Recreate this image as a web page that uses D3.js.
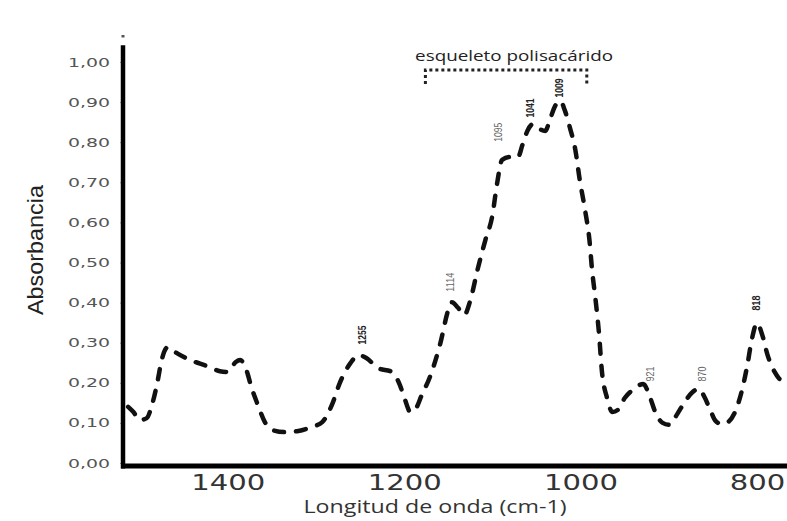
<!DOCTYPE html>
<html>
<head>
<meta charset="utf-8">
<script src="https://cdn.jsdelivr.net/npm/d3@7"></script>
<style>
  body { margin: 0; background: #fff; }
</style>
</head>
<body>
<svg id="chart" width="787" height="521"></svg>
<script>
// spectrum (cm-1, absorbance)
const wavenumber = [1513, 1507, 1500, 1492, 1486, 1480, 1475, 1468, 1460, 1443, 1424, 1409, 1400, 1391, 1386,
  1379, 1373, 1366, 1358, 1349, 1335, 1320, 1305, 1293, 1282, 1273, 1261, 1252, 1243, 1230, 1214, 1205, 1199,
  1193, 1188, 1180, 1171, 1159, 1150, 1146, 1139, 1132, 1125, 1117, 1108, 1100, 1095, 1089, 1080, 1071, 1066,
  1060, 1054, 1048, 1040, 1035, 1029, 1023, 1018, 1012, 1006, 1001, 995, 990, 987, 983, 979, 976, 970, 964,
  958, 950, 941, 929, 921, 915, 907, 899, 891, 882, 873, 866, 859, 853, 847, 840, 833, 824, 817, 811, 806,
  800, 794, 788, 780, 772, 766];
const absorbance = [0.140, 0.127, 0.107, 0.112, 0.145, 0.200, 0.257, 0.289, 0.277, 0.257, 0.242, 0.229, 0.227,
  0.252, 0.257, 0.232, 0.187, 0.145, 0.102, 0.082, 0.077, 0.080, 0.090, 0.102, 0.145, 0.200, 0.249, 0.269,
  0.262, 0.237, 0.227, 0.195, 0.157, 0.127, 0.132, 0.170, 0.214, 0.299, 0.382, 0.401, 0.387, 0.369, 0.406,
  0.481, 0.556, 0.618, 0.693, 0.756, 0.763, 0.763, 0.793, 0.830, 0.845, 0.835, 0.828, 0.855, 0.890, 0.903,
  0.880, 0.835, 0.781, 0.706, 0.631, 0.556, 0.481, 0.406, 0.319, 0.232, 0.162, 0.127, 0.132, 0.162, 0.182,
  0.197, 0.162, 0.125, 0.100, 0.095, 0.120, 0.152, 0.177, 0.185, 0.162, 0.132, 0.105, 0.097, 0.102, 0.132,
  0.182, 0.244, 0.307, 0.349, 0.319, 0.269, 0.227, 0.207, 0.212];

const yTicks = [0, 0.1, 0.2, 0.3, 0.4, 0.5, 0.6, 0.7, 0.8, 0.9, 1.0];
const xTicks = [1400, 1200, 1000, 800];

// peak annotations (rotated numbers)
const peakLabels = ["1255", "1114", "1095", "1041", "1009", "921", "870", "818"];
const peakX = [1247, 1148, 1093, 1057, 1024, 921, 862, 801];
const peakY = [0.319, 0.451, 0.825, 0.885, 0.935, 0.222, 0.222, 0.399];
const peakBold = [true, false, false, true, true, false, false, true];

// dotted bracket over the polysaccharide region
const bracketRange = [1176, 993];
const bracketLevels = [0.980, 0.945];
const bracketText = "esqueleto polisacárido";

const svg = d3.select("#chart");

const x = d3.scaleLinear().domain([1520, 766]).range([122, 787]);
const y = d3.scaleLinear().domain([0, 1]).range([463, 62]);

// axes
const yAxis = d3.axisLeft(y)
  .tickValues(yTicks)
  .tickSize(3)
  .tickPadding(10)
  .tickFormat(d => d3.format(".2f")(d).replace(".", ","));

const gy = svg.append("g").attr("transform", "translate(123,0)").call(yAxis);
gy.select(".domain").remove();
gy.selectAll(".tick line").attr("stroke", "#aaa").attr("stroke-width", 1);
gy.selectAll(".tick text")
  .attr("font-family", "DejaVu Sans, sans-serif")
  .attr("font-size", 12.5)
  .attr("fill", "#555")
  .attr("textLength", 42)
  .attr("lengthAdjust", "spacingAndGlyphs");

const xAxis = d3.axisBottom(x).tickValues(xTicks).tickSize(0).tickPadding(8)
  .tickFormat(d3.format("d"));
const gx = svg.append("g").attr("transform", "translate(0,466)").call(xAxis);
gx.select(".domain").remove();
gx.selectAll(".tick text")
  .attr("font-family", "DejaVu Sans, sans-serif")
  .attr("font-size", 22)
  .attr("fill", "#333")
  .attr("textLength", d => String(d).length * 18.5)
  .attr("lengthAdjust", "spacingAndGlyphs");

// thick axis lines
svg.append("line")
  .attr("x1", 123).attr("x2", 123)
  .attr("y1", y(1.042)).attr("y2", 468.5)
  .attr("stroke", "#000").attr("stroke-width", 4.5);
svg.append("line")
  .attr("x1", 121).attr("x2", 787)
  .attr("y1", 466).attr("y2", 466)
  .attr("stroke", "#000").attr("stroke-width", 5);
svg.append("line")
  .attr("x1", 123).attr("x2", 123)
  .attr("y1", 35).attr("y2", 37.5)
  .attr("stroke", "#555").attr("stroke-width", 3);

// titles
svg.append("text")
  .attr("transform", "translate(43,250) rotate(-90)")
  .attr("text-anchor", "middle")
  .attr("font-family", "Liberation Sans, Arial, sans-serif")
  .attr("font-size", 22)
  .attr("fill", "#222")
  .attr("textLength", 130)
  .attr("lengthAdjust", "spacingAndGlyphs")
  .text("Absorbancia");

svg.append("text")
  .attr("x", 435).attr("y", 513)
  .attr("text-anchor", "middle")
  .attr("font-family", "Open Sans, sans-serif")
  .attr("font-size", 19)
  .attr("fill", "#333")
  .attr("textLength", 263)
  .attr("lengthAdjust", "spacingAndGlyphs")
  .text("Longitud de onda (cm-1)");

// spectrum
const pts = wavenumber.map((w, i) => [w, absorbance[i]]);
const line = d3.line()
  .x(d => x(d[0]))
  .y(d => y(d[1]))
  .curve(d3.curveMonotoneX);

svg.append("path")
  .datum(pts)
  .attr("d", line)
  .attr("fill", "none")
  .attr("stroke", "#111")
  .attr("stroke-width", 4.5)
  .attr("stroke-linecap", "round")
  .attr("stroke-dasharray", "10,12");

// peak labels
peakLabels.forEach((lab, i) => {
  svg.append("text")
    .attr("transform", `translate(${x(peakX[i]) + 3.5},${y(peakY[i])}) rotate(-90)`)
    .attr("text-anchor", "middle")
    .attr("font-family", "Liberation Sans Narrow, Liberation Sans, Arial, sans-serif")
    .attr("font-size", 10)
    .attr("font-weight", peakBold[i] ? "bold" : "normal")
    .attr("fill", peakBold[i] ? "#222" : "#666")
    .attr("textLength", lab.length === 4 ? 19 : 15)
    .attr("lengthAdjust", "spacingAndGlyphs")
    .text(lab);
});

// bracket
const bx0 = x(bracketRange[0]), bx1 = x(bracketRange[1]);
const by0 = y(bracketLevels[0]), by1 = y(bracketLevels[1]);
svg.append("path")
  .attr("d", `M${bx0},${by1}V${by0}H${bx1}V${by1}`)
  .attr("fill", "none")
  .attr("stroke", "#222")
  .attr("stroke-width", 3)
  .attr("stroke-dasharray", "3,3");

svg.append("text")
  .attr("x", (bx0 + bx1) / 2 + 8).attr("y", y(bracketLevels[0]) - 9)
  .attr("text-anchor", "middle")
  .attr("font-family", "Open Sans, sans-serif")
  .attr("font-size", 15)
  .attr("fill", "#222")
  .attr("textLength", 198)
  .attr("lengthAdjust", "spacingAndGlyphs")
  .text(bracketText);
</script>
</body>
</html>
